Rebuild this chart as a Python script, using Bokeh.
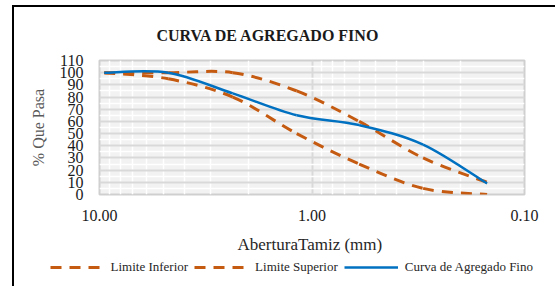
import math
from bokeh.plotting import figure
from bokeh.layouts import column
from bokeh.models import (FixedTicker, NumeralTickFormatter, Range1d,
                          Legend, LegendItem, ColumnDataSource)
from bokeh.embed import file_html
from bokeh.resources import INLINE

# ---- data ----
sizes = [9.5, 4.75, 2.36, 1.18, 0.6, 0.3, 0.15]          # abertura tamiz (mm)
lim_inf = [100, 95, 80, 50, 25, 5, 0]                   # Limite Inferior
lim_sup = [100, 100, 100, 85, 60, 30, 10]               # Limite Superior
curva = [100, 100, 83, 65, 57, 41, 9]                   # Curva de Agregado Fino

x_ticks = [0.1, 1, 10]
x_minor = [0.2, 0.3, 0.4, 0.5, 0.6, 0.7, 0.8, 0.9, 2, 3, 4, 5, 6, 7, 8, 9]
y_ticks = list(range(0, 111, 10))
y_minor = list(range(5, 110, 10))

FONT = "Liberation Serif"
ORANGE = "#C55A11"
BLUE = "#0070C0"
DASH = "11 8"


def smooth_segments(xs, ys):
    """Bezier control points (Catmull-Rom style, in log-x space) for a smoothed line."""
    lx = [math.log10(v) for v in xs]
    n = len(xs)
    d = dict(x0=[], y0=[], x1=[], y1=[], cx0=[], cy0=[], cx1=[], cy1=[])
    for i in range(n - 1):
        p0 = i - 1 if i > 0 else i
        p3 = i + 2 if i + 2 < n else i + 1
        c1x = lx[i] + (lx[i + 1] - lx[p0]) / 6
        c1y = ys[i] + (ys[i + 1] - ys[p0]) / 6
        c2x = lx[i + 1] - (lx[p3] - lx[i]) / 6
        c2y = ys[i + 1] - (ys[p3] - ys[i]) / 6
        d["x0"].append(xs[i]); d["y0"].append(ys[i])
        d["x1"].append(xs[i + 1]); d["y1"].append(ys[i + 1])
        d["cx0"].append(10 ** c1x); d["cy0"].append(c1y)
        d["cx1"].append(10 ** c2x); d["cy1"].append(c2y)
    return ColumnDataSource(d)


p = figure(width=541, height=250, x_axis_type="log",
           x_range=Range1d(10, 0.1), y_range=Range1d(0, 110),
           output_backend="svg", toolbar_location=None,
           title="CURVA DE AGREGADO FINO",
           min_border_left=85, min_border_right=31,
           min_border_top=52, min_border_bottom=63)

p.title.text_font = FONT
p.title.text_font_size = "16px"
p.title.text_font_style = "bold"
p.title.text_color = "#1a1a1a"
p.title.align = "left"
p.title.offset = 57
p.title.standoff = 34

p.background_fill_color = "#F2F2F2"
p.border_fill_color = "white"
p.outline_line_color = "#CFCFCF"
p.outline_line_width = 2

# axes
p.xaxis.ticker = FixedTicker(ticks=x_ticks, minor_ticks=x_minor)
p.yaxis.ticker = FixedTicker(ticks=y_ticks, minor_ticks=y_minor)
p.xaxis.formatter = NumeralTickFormatter(format="0.00")
for ax in (p.xaxis, p.yaxis):
    ax.axis_line_color = None
    ax.major_tick_line_color = None
    ax.minor_tick_line_color = None
    ax.major_tick_out = 0
    ax.minor_tick_out = 0
    ax.major_label_text_font = FONT
    ax.major_label_text_font_size = "16px"
    ax.major_label_text_color = "#1a1a1a"
    ax.axis_label_text_font = FONT
    ax.axis_label_text_font_style = "normal"

p.yaxis.major_label_standoff = 16
p.yaxis.axis_label = "% Que Pasa"
p.yaxis.axis_label_text_font_size = "16px"
p.yaxis.axis_label_text_color = "#595959"
p.yaxis.axis_label_standoff = 10

p.xaxis.major_label_standoff = 15
p.xaxis.axis_label = "AberturaTamiz  (mm)"
p.xaxis.axis_label_text_font_size = "17px"
p.xaxis.axis_label_text_color = "#262626"
p.xaxis.axis_label_standoff = 11

# grids
p.xgrid.grid_line_color = "#D9D9D9"
p.xgrid.grid_line_width = 2
p.xgrid.minor_grid_line_color = "white"
p.xgrid.minor_grid_line_width = 1.5
p.ygrid.grid_line_color = "#D9D9D9"
p.ygrid.grid_line_width = 2
p.ygrid.minor_grid_line_color = "white"
p.ygrid.minor_grid_line_width = 1.5

# curves
p.bezier(x0="x0", y0="y0", x1="x1", y1="y1", cx0="cx0", cy0="cy0",
         cx1="cx1", cy1="cy1", source=smooth_segments(sizes, lim_inf),
         line_color=ORANGE, line_width=3, line_dash=DASH)
p.bezier(x0="x0", y0="y0", x1="x1", y1="y1", cx0="cx0", cy0="cy0",
         cx1="cx1", cy1="cy1", source=smooth_segments(sizes, lim_sup),
         line_color=ORANGE, line_width=3, line_dash=DASH)
p.bezier(x0="x0", y0="y0", x1="x1", y1="y1", cx0="cx0", cy0="cy0",
         cx1="cx1", cy1="cy1", source=smooth_segments(sizes, curva),
         line_color=BLUE, line_width=2.5)

# ---- legend strip (separate figure so the legend sits inside a frame) ----
# its ranges lie away from the data, so the proxy lines only feed the legend
q = figure(width=541, height=29, output_backend="svg", toolbar_location=None,
           min_border=0, min_border_left=0, min_border_right=0,
           min_border_top=0, min_border_bottom=0,
           x_range=Range1d(-20, -19), y_range=Range1d(-20, -19))
q.axis.visible = False
q.grid.visible = False
q.outline_line_color = None
q.background_fill_color = "white"
q.border_fill_color = "white"
r1 = q.line(x=sizes, y=lim_inf, line_color=ORANGE, line_width=3, line_dash=DASH)
r2 = q.line(x=sizes, y=lim_sup, line_color=ORANGE, line_width=3, line_dash=DASH)
r3 = q.line(x=sizes, y=curva, line_color=BLUE, line_width=2.5)
legend = Legend(items=[LegendItem(label="Limite Inferior", renderers=[r1]),
                       LegendItem(label="Limite Superior", renderers=[r2]),
                       LegendItem(label="Curva de Agregado Fino", renderers=[r3])],
                orientation="horizontal", location=(35.5, 11.5),
                glyph_width=54, glyph_height=14, label_standoff=7, spacing=6,
                padding=0, margin=0, border_line_color=None,
                background_fill_alpha=0,
                label_text_font=FONT, label_text_font_size="13px",
                label_text_color="#262626")
q.add_layout(legend, "center")

layout = column(p, column(q))
# outer chart border: left and top edges
layout.styles = {"margin-left": "12px", "margin-top": "5px",
                 "border-left": "2px solid black", "border-top": "2px solid black"}

open("out.html", "w").write(file_html(layout, INLINE))
